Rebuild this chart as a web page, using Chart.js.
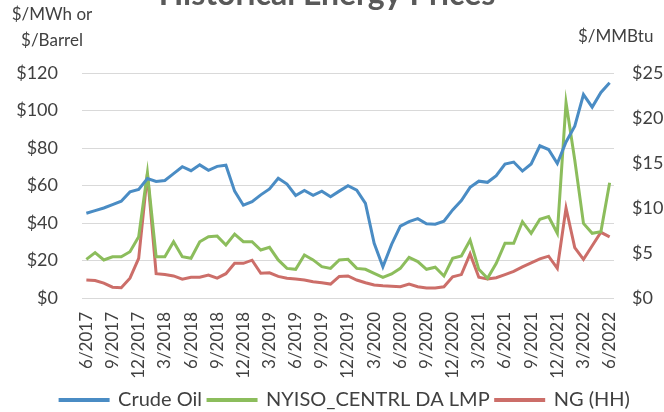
<!DOCTYPE html>
<html>
<head>
<meta charset="utf-8">
<script src="https://cdn.jsdelivr.net/npm/chart.js@4/dist/chart.umd.min.js"></script>
<style>
  html, body { margin: 0; padding: 0; background: #fff; overflow: hidden; }
  #wrap { position: relative; width: 664px; height: 412px; overflow: hidden; }
  #wrap canvas { position: absolute; left: 0; top: 0; }
</style>
</head>
<body>
<div id="wrap"><canvas id="energy" width="690" height="420"></canvas></div>
<script>
const months = [
  '6/2017','7/2017','8/2017','9/2017','10/2017','11/2017','12/2017',
  '1/2018','2/2018','3/2018','4/2018','5/2018','6/2018','7/2018','8/2018','9/2018','10/2018','11/2018','12/2018',
  '1/2019','2/2019','3/2019','4/2019','5/2019','6/2019','7/2019','8/2019','9/2019','10/2019','11/2019','12/2019',
  '1/2020','2/2020','3/2020','4/2020','5/2020','6/2020','7/2020','8/2020','9/2020','10/2020','11/2020','12/2020',
  '1/2021','2/2021','3/2021','4/2021','5/2021','6/2021','7/2021','8/2021','9/2021','10/2021','11/2021','12/2021',
  '1/2022','2/2022','3/2022','4/2022','5/2022','6/2022'
];

// $/Barrel
const crudeOil = [
  45.2, 46.6, 48.0, 49.8, 51.6, 56.6, 57.9,
  63.7, 62.2, 62.7, 66.3, 70.0, 67.9, 71.0, 68.1, 70.2, 70.8, 57.0, 49.5,
  51.4, 55.0, 58.2, 63.9, 60.8, 54.7, 57.4, 54.8, 57.0, 54.0, 57.0, 59.9,
  57.5, 50.5, 29.2, 16.6, 28.6, 38.3, 40.7, 42.3, 39.6, 39.4, 41.0, 47.0,
  52.0, 59.0, 62.3, 61.7, 65.2, 71.4, 72.5, 67.7, 71.5, 81.2, 79.2, 71.7,
  83.2, 91.6, 108.5, 101.8, 109.6, 114.8
];

// $/MWh
const nyisoLmp = [
  20.6, 24.2, 20.3, 22.0, 22.0, 24.7, 32.7,
  66.8, 22.0, 22.0, 30.0, 22.0, 21.2, 30.0, 32.7, 33.0, 28.3, 34.1, 30.0,
  30.0, 25.6, 27.0, 20.3, 15.8, 15.3, 22.9, 20.3, 16.7, 15.8, 20.3, 20.6,
  15.8, 15.3, 13.1, 11.0, 12.8, 15.8, 21.7, 19.4, 15.3, 16.4, 11.7, 21.2,
  22.4, 30.9, 15.3, 10.5, 18.5, 29.2, 29.2, 40.7, 34.5, 42.0, 43.4, 34.5,
  104.2, 73.6, 39.8, 34.5, 35.4, 61.5
];

// $/MMBtu
const ngHH = [
  2.0, 1.95, 1.65, 1.2, 1.15, 2.2, 4.4,
  13.8, 2.7, 2.6, 2.45, 2.1, 2.3, 2.3, 2.55, 2.2, 2.7, 3.85, 3.85,
  4.2, 2.75, 2.8, 2.4, 2.2, 2.1, 2.0, 1.8, 1.7, 1.55, 2.4, 2.45,
  2.0, 1.7, 1.45, 1.35, 1.3, 1.25, 1.55, 1.25, 1.1, 1.1, 1.25, 2.35,
  2.6, 4.9, 2.3, 2.1, 2.25, 2.6, 2.95, 3.45, 3.9, 4.35, 4.65, 3.3,
  10.0, 5.6, 4.3, 5.8, 7.3, 6.8
];

const blue = '#4a8cc4';
const green = '#8cbd5c';
const red = '#cc6e69';
const txt = '#404040';
const fnt = 'Lato, "Open Sans", sans-serif';

// title and the horizontal axis captions
const extraText = {
  id: 'extraText',
  afterDraw(chart) {
    const c = chart.ctx;
    c.save();
    c.fillStyle = '#595959';
    c.font = 'bold 32px ' + fnt;
    c.textAlign = 'center';
    c.textBaseline = 'alphabetic';
    c.fillText('Historical Energy Prices', 327, 5);
    c.fillStyle = txt;
    c.font = '17px ' + fnt;
    c.textBaseline = 'middle';
    c.fillText('$/MWh or', 52, 15);
    c.fillText('$/Barrel', 52, 41);
    c.textAlign = 'left';
    c.fillText('$/MMBtu', 578, 37);
    c.restore();
  }
};

new Chart(document.getElementById('energy'), {
  type: 'line',
  data: {
    labels: months,
    datasets: [
      { label: 'Crude Oil', data: crudeOil, borderColor: blue, backgroundColor: blue, yAxisID: 'y' },
      { label: 'NYISO_CENTRL DA LMP', data: nyisoLmp, borderColor: green, backgroundColor: green, yAxisID: 'y' },
      { label: 'NG (HH)', data: ngHH, borderColor: red, backgroundColor: red, yAxisID: 'y1' }
    ]
  },
  options: {
    responsive: false,
    animation: false,
    layout: { padding: { top: 73, left: 0, right: 0, bottom: 0 } },
    elements: {
      point: { radius: 0 },
      line: { borderWidth: 3, tension: 0 }
    },
    plugins: {
      legend: {
        position: 'bottom',
        labels: {
          boxWidth: 48, boxHeight: 1, padding: 6,
          color: txt, font: { family: fnt, size: 20 }
        }
      },
      tooltip: { enabled: false }
    },
    scales: {
      x: {
        offset: true,
        grid: { display: false },
        border: { display: false },
        afterFit(s) { s.height = 86; },
        ticks: {
          autoSkip: false, maxRotation: 90, minRotation: 90, padding: 6,
          color: txt, font: { family: fnt, size: 17 },
          callback: (v, i) => (i % 3 === 0 ? months[i] : '')
        }
      },
      y: {
        position: 'left', min: 0, max: 120,
        grid: { color: '#d9d9d9', drawTicks: false },
        border: { display: false },
        afterFit(s) { s.width = 82; },
        ticks: {
          stepSize: 20, padding: 24, color: txt, font: { family: fnt, size: 18 },
          callback: v => '$' + v
        }
      },
      y1: {
        position: 'right', min: 0, max: 25,
        grid: { display: false, drawTicks: false },
        border: { display: false },
        afterFit(s) { s.width = 76; },
        ticks: {
          stepSize: 5, padding: 18, color: txt, font: { family: fnt, size: 18 },
          callback: v => '$' + v
        }
      }
    }
  },
  plugins: [extraText]
});
</script>
</body>
</html>
